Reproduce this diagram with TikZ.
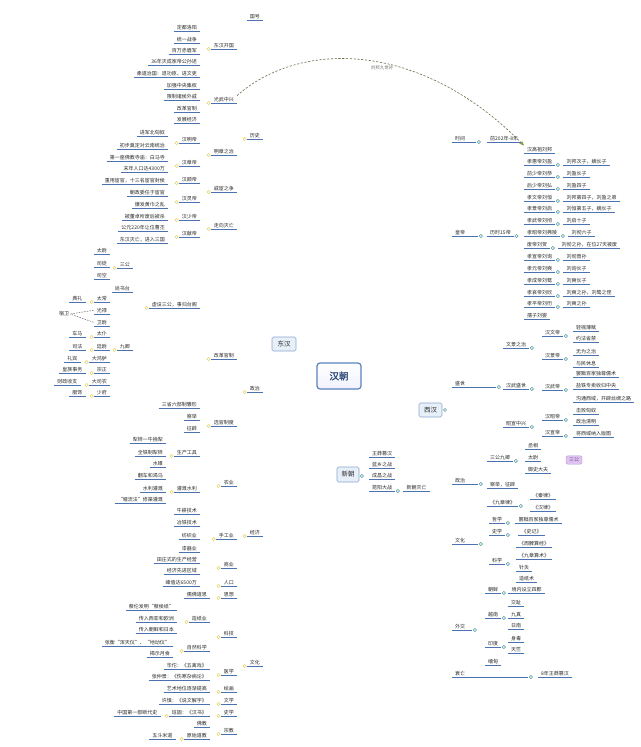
\documentclass[tikz,border=0pt]{standalone}
\usepackage{fontspec}
\setmainfont{Noto Sans CJK SC}
\newfontfamily\hcb{Noto Sans CJK SC}[FakeBold=1.6]
\usetikzlibrary{calc,arrows.meta}
\pgfdeclarelayer{bg}
\pgfsetlayers{bg,main}
\definecolor{ulc}{HTML}{4A72B0}
\definecolor{ylc}{HTML}{EAD46A}
\definecolor{ylm}{HTML}{F2D94E}
\definecolor{tlc}{HTML}{4E9AA3}
\definecolor{dtl}{HTML}{2B6A78}
\definecolor{txt}{HTML}{2A2A2A}
\definecolor{boxf}{HTML}{E7EFF9}
\definecolor{boxd}{HTML}{8CA7CC}
\definecolor{hcd}{HTML}{5B82BE}
\definecolor{hct}{HTML}{2E4A7A}
\definecolor{relc}{HTML}{66704A}
\definecolor{arrc}{HTML}{7F9A3A}
\definecolor{pkf}{HTML}{DDC3EE}
\definecolor{pkd}{HTML}{BA95D8}
\definecolor{pkt}{HTML}{7A4A9E}
\tikzset{
  lf/.style={font=\fontsize{5}{6}\selectfont, text=txt, inner xsep=3pt, inner ysep=1.2pt,
    append after command={(\tikzlastnode.south west) edge[draw=ulc, line width=0.75pt] (\tikzlastnode.south east)}},
  L/.style={lf, anchor=south east},
  R/.style={lf, anchor=south west},
  tw/.style={text width=#1, align=left},
  yl/.style={draw=ylc, line width=0.85pt, rounded corners=2pt},
  tc/.style={draw=tlc, line width=0.7pt, rounded corners=2pt},
  cy/.style={circle, draw=ylc, fill=white, inner sep=0pt, minimum size=3.2pt, line width=0.5pt},
  ct/.style={circle, draw=tlc, fill=white, inner sep=0pt, minimum size=3.2pt, line width=0.5pt},
  bx/.style={draw=boxd, fill=boxf, rounded corners=1.5pt, line width=0.6pt, font=\fontsize{6.5}{7}\selectfont, text=txt, inner sep=0pt},
}
\newcommand\Lk[2]{\begin{pgfonlayer}{bg}\foreach \kid in {#2}{\draw[yl] (#1.south west) -- ++(-4,0) |- (\kid.south east);}\end{pgfonlayer}\node[cy] at ($(#1.south west)+(-2,0)$) {};}
\newcommand\Rk[2]{\begin{pgfonlayer}{bg}\foreach \kid in {#2}{\draw[tc] (#1.south east) -- ++(4,0) |- (\kid.south west);}\end{pgfonlayer}\node[ct] at ($(#1.south east)+(2.5,0)$) {};}
\begin{document}
\begin{tikzpicture}[x=1pt,y=-1pt]
\fill[white] (0,0) rectangle (640,747);
\useasboundingbox (0,0) rectangle (640,747);

% ---------- central boxes ----------
\node[bx, minimum width=44pt, minimum height=26pt, draw=hcd, line width=1.2pt, rounded corners=3pt, top color=white, bottom color=boxf!80!blue!20, font=\hcb\fontsize{9.5}{10}\selectfont, text=hct] (hc) at (339,376) {汉朝};
\node[bx, minimum width=24pt, minimum height=14pt] (dh) at (284,344) {东汉};
\node[bx, minimum width=23pt, minimum height=14pt] (xh) at (430.5,410) {西汉};
\node[bx, minimum width=22pt, minimum height=15pt] (xc) at (348,474.5) {新朝};
\node[ct] at (445,410) {};

\begin{pgfonlayer}{bg}
\draw[ylm, line width=1.8pt] ($(hc.north west)+(5,0)$) .. controls +(-6,-12) and +(14,0) .. (dh.east);
\draw[dtl, line width=1.4pt] ($(hc.south east)+(-2,-1)$) .. controls +(12,16) and +(-25,0) .. (xh.west);
\draw[tlc!85!black, line width=1.2pt] (hc.south) -- (hc.south |- xc.north);
\end{pgfonlayer}

% ---------- 东汉 (left) ----------
\node[L] (guohao) at (263,20) {国号};
\node[L] (lishi) at (263,139) {历史};
\node[L] (lzz) at (263,392) {政治};
\node[L] (ljj) at (263,536) {经济};
\node[L] (lwh) at (263,666) {文化};

\node[L] (kg) at (237,49) {东汉开国};
\node[L] (gw) at (237,103) {光武中兴};
\node[L] (mz) at (237,155) {明章之治};
\node[L] (qh) at (237,192) {戚宦之争};
\node[L] (zxm) at (237,229) {走向灭亡};

\node[L] (a1) at (200,31) {定都洛阳};
\node[L] (a2) at (200,43) {统一战争};
\node[L] (a3) at (200,54) {百万赤眉军};
\node[L] (a4) at (200,65) {36年灭成家帝公孙述};
\node[L] (b1) at (200,77) {柔道治国：退功臣、进文吏};
\node[L] (b2) at (200,89) {加强中央集权};
\node[L] (b3) at (200,100) {限制诸侯外戚};
\node[L] (b4) at (200,112) {改革官制};
\node[L] (b5) at (200,123) {发展经济};
\node[L] (mm) at (200,143) {汉明帝};
\node[L] (mc) at (200,166) {汉章帝};
\node[L] (hs) at (200,183) {汉顺帝};
\node[L] (hl) at (200,202) {汉灵帝};
\node[L] (hsh) at (200,220) {汉少帝};
\node[L] (hx) at (200,237) {汉献帝};

\node[L] (c1) at (168,136) {进军北匈奴};
\node[L] (c2) at (168,149) {初步奠定对云南统治};
\node[L] (c3) at (168,161) {第一座佛教寺庙：白马寺};
\node[L] (c4) at (168,172) {末年人口达4300万};
\node[L] (c5) at (168,184) {重用宦官，十三名宦官封侯};
\node[L] (c6) at (168,196) {朝政委任于宦官};
\node[L] (c7) at (168,208) {爆发黄巾之乱};
\node[L] (c8) at (168,220) {被董卓所废后被杀};
\node[L] (c9) at (168,231) {公元220年让位曹丕};
\node[L] (c10) at (168,243) {东汉灭亡，进入三国};

\node[L] (gg) at (237,359) {改革官制};
\node[L] (xg) at (237,426) {选官制度};
\node[L] (xs) at (200,308) {虚设三公，事归台阁};
\node[L] (ss) at (200,408) {三省六部制雏形};
\node[L] (cj) at (200,420) {察举};
\node[L] (zb) at (200,432) {征辟};
\node[L] (sg) at (133,268) {三公};
\node[L] (sst) at (133,292) {尚书台};
\node[L] (jq) at (133,350) {九卿};
\node[L] (tw1) at (110,254) {太尉};
\node[L] (st) at (110,267) {司徒};
\node[L] (sk) at (110,279) {司空};
\node[L] (j1) at (110,302) {太常};
\node[L] (j2) at (110,314) {光禄};
\node[L] (j3) at (110,326) {卫尉};
\node[L] (j4) at (110,337) {太仆};
\node[L] (j5) at (110,350) {廷尉};
\node[L] (j6) at (110,362) {大鸿胪};
\node[L] (j7) at (110,373) {宗正};
\node[L] (j8) at (110,385) {大司农};
\node[L] (j9) at (110,396) {少府};
\node[L] (k1) at ($(j1.south west)+(-8,0)$) {典礼};
\node[L] (k4) at ($(j4.south west)+(-8,0)$) {车马};
\node[L] (k5) at ($(j5.south west)+(-8,0)$) {司法};
\node[L] (k6) at ($(j6.south west)+(-8,0)$) {礼宾};
\node[L] (k7) at ($(j7.south west)+(-8,0)$) {皇族事务};
\node[L] (k8) at ($(j8.south west)+(-8,0)$) {财政收支};
\node[L] (k9) at ($(j9.south west)+(-8,0)$) {服饰};
\node[font=\fontsize{5}{6}\selectfont, text=txt, inner sep=1pt] (suwei) at (64,314) {宿卫};
\draw[black!60, dash pattern=on 1.5pt off 1.2pt, line width=0.5pt] (j2.west) -- (suwei.east);
\draw[black!60, dash pattern=on 1.5pt off 1.2pt, line width=0.5pt] (j3.west) -- (suwei.east);

\node[L] (ny) at (237,486) {农业};
\node[L] (sgy) at (237,539) {手工业};
\node[L] (sy) at (237,568) {商业};
\node[L] (rk) at (237,586) {人口};
\node[L] (scgj) at (200,456) {生产工具};
\node[L] (ggsl) at (200,492) {灌溉水利};
\node[L] (ngjs) at (200,514) {牛耕技术};
\node[L] (d1) at (166,443) {犁铧一牛挽犁};
\node[L] (d2) at (166,456) {全铁制犁铧};
\node[L] (d3) at (166,467) {水碓};
\node[L] (d4) at (166,479) {翻车和渴乌};
\node[L] (d5) at (166,492) {水利灌溉};
\node[L] (d6) at (166,503) {“堰流法”修渠灌溉};
\node[L] (e1) at (200,526) {冶铁技术};
\node[L] (e2) at (200,539) {纺织业};
\node[L] (e3) at (200,552) {漆器业};
\node[L] (e4) at (200,563) {田庄式的生产经营};
\node[L] (e5) at (200,574) {经济先进区域};
\node[L] (e6) at (200,586) {峰值达6500万};

\node[L] (sx) at (237,598) {思想};
\node[L] (kj) at (237,637) {科技};
\node[L] (yx) at (237,675) {医学};
\node[L] (hh) at (237,692) {绘画};
\node[L] (wx) at (237,704) {文学};
\node[L] (shx) at (237,716) {史学};
\node[L] (zj) at (237,734) {宗教};
\node[L] (f0) at (210,598) {儒佛道思};
\node[L] (zzy) at (210,622) {造纸业};
\node[L] (zrkx) at (210,651) {自然科学};
\node[L] (f1) at (210,669) {华佗：《五禽戏》};
\node[L] (f2) at (210,680) {张仲景：《伤寒杂病论》};
\node[L] (f3) at (210,692) {艺术地位逐渐提高};
\node[L] (f4) at (210,704) {许慎：《说文解字》};
\node[L] (f5) at (210,716) {班固：《汉书》};
\node[L] (fj) at (210,727) {佛教};
\node[L] (ysdj) at (210,739) {原始道教};
\node[L] (g1) at (177,610) {蔡伦发明“蔡侯纸”};
\node[L] (g2) at (177,622) {传入西亚和欧洲};
\node[L] (g3) at (177,633) {传入朝鲜和日本};
\node[L] (g4) at (173,646) {张衡“浑天仪”、“地动仪”};
\node[L] (g5) at (173,657) {揭示月食};
\node[L] (g6) at ($(f5.south west)+(-8,0)$) {中国第一部断代史};
\node[L] (g7) at ($(ysdj.south west)+(-8,0)$) {五斗米道};

\begin{pgfonlayer}{bg}
\foreach \kid in {guohao,lishi,lzz,ljj,lwh}{\draw[yl, line width=1pt] (dh.west) -- ++(-5,0) |- (\kid.south east);}
\end{pgfonlayer}
\Lk{lishi}{kg,gw,mz,qh,zxm}
\Lk{kg}{a1,a2,a3,a4}
\Lk{gw}{b1,b2,b3,b4,b5}
\Lk{mz}{mm,mc}
\Lk{qh}{hs,hl}
\Lk{zxm}{hsh,hx}
\Lk{mm}{c1,c2}
\Lk{mc}{c3,c4}
\Lk{hs}{c5}
\Lk{hl}{c6,c7}
\Lk{hsh}{c8}
\Lk{hx}{c9,c10}
\Lk{lzz}{gg,xg}
\Lk{gg}{xs,ss}
\Lk{xg}{cj,zb}
\Lk{xs}{sg,sst,jq}
\Lk{sg}{tw1,st,sk}
\Lk{jq}{j1,j2,j3,j4,j5,j6,j7,j8,j9}
\Lk{j1}{k1}
\Lk{j4}{k4}
\Lk{j5}{k5}
\Lk{j6}{k6}
\Lk{j7}{k7}
\Lk{j8}{k8}
\Lk{j9}{k9}
\Lk{ljj}{ny,sgy,sy,rk}
\Lk{ny}{scgj,ggsl,ngjs}
\Lk{scgj}{d1,d2,d3}
\Lk{ggsl}{d4,d5,d6}
\Lk{sgy}{e1,e2,e3}
\Lk{sy}{e4,e5}
\Lk{rk}{e6}
\Lk{lwh}{sx,kj,yx,hh,wx,shx,zj}
\Lk{sx}{f0}
\Lk{kj}{zzy,zrkx}
\Lk{zzy}{g1,g2,g3}
\Lk{zrkx}{g4,g5}
\Lk{yx}{f1,f2}
\Lk{hh}{f3}
\Lk{wx}{f4}
\Lk{shx}{f5}
\Lk{f5}{g6}
\Lk{zj}{fj,ysdj}
\Lk{ysdj}{g7}

% ---------- 新朝 ----------
\node[R] (wmcz) at (369,457) {王莽篡汉};
\node[R] (lx) at (369,468) {蓝乡之战};
\node[R] (cc) at (369,479) {成昌之战};
\node[R] (ky) at (369,491) {昆阳大战};
\node[R] (xcmw) at ($(ky.south east)+(8,0)$) {新朝灭亡};
\begin{pgfonlayer}{bg}
\foreach \kid in {wmcz,lx,cc,ky}{\draw[tc] (xc.east) -- ++(5,0) |- (\kid.south west);}
\end{pgfonlayer}
\node[ct] at ($(xc.east)+(2.5,1.5)$) {};
\Rk{ky}{xcmw}

% ---------- 西汉 (right) ----------
\node[R, tw=18pt] (sj) at (452,142) {时间};
\node[R, tw=20pt] (hd) at (452,236) {皇帝};
\node[R, tw=38pt] (ssh) at (452,387) {盛世};
\node[R, tw=20pt] (rzz) at (452,484) {政治};
\node[R, tw=20pt] (rwh) at (452,544) {文化};
\node[R, tw=14pt] (wj) at (452,630) {外交};
\node[R, tw=70pt] (sw) at (452,677) {衰亡};

\node[R] (pre) at (487,142) {前202年-8年};
\node[R] (ls) at (487,236) {历时15帝};
\node[R] (h1) at (524,153) {汉高祖刘邦};
\node[R] (h2) at (524,165) {孝惠帝刘盈};
\node[R] (h3) at (524,177) {前少帝刘恭};
\node[R] (h4) at (524,189) {后少帝刘弘};
\node[R] (h5) at (524,201) {孝文帝刘恒};
\node[R] (h6) at (524,212) {孝景帝刘启};
\node[R] (h7) at (524,224) {孝武帝刘彻};
\node[R] (h8) at (524,236) {孝昭帝刘弗陵};
\node[R] (h9) at (524,248) {废帝刘贺};
\node[R] (h10) at (524,260) {孝宣帝刘询};
\node[R] (h11) at (524,272) {孝元帝刘奭};
\node[R] (h12) at (524,284) {孝成帝刘骜};
\node[R] (h13) at (524,296) {孝哀帝刘欣};
\node[R] (h14) at (524,307) {孝平帝刘衎};
\node[R] (h15) at (524,319) {孺子刘婴};
\node[R] (q2) at ($(h2.south east)+(8,0)$) {刘邦次子，嫡长子};
\node[R] (q3) at ($(h3.south east)+(8,0)$) {刘盈长子};
\node[R] (q4) at ($(h4.south east)+(8,0)$) {刘盈四子};
\node[R] (q5) at ($(h5.south east)+(8,0)$) {刘邦第四子，刘盈之弟};
\node[R] (q6) at ($(h6.south east)+(8,0)$) {刘恒第五子，嫡长子};
\node[R] (q7) at ($(h7.south east)+(8,0)$) {刘启十子};
\node[R] (q8) at ($(h8.south east)+(8,0)$) {刘彻六子};
\node[R] (q9) at ($(h9.south east)+(8,0)$) {刘彻之孙，在位27天被废};
\node[R] (q10) at ($(h10.south east)+(8,0)$) {刘彻曾孙};
\node[R] (q11) at ($(h11.south east)+(8,0)$) {刘询长子};
\node[R] (q12) at ($(h12.south east)+(8,0)$) {刘奭长子};
\node[R] (q13) at ($(h13.south east)+(8,0)$) {刘奭之孙，刘骜之侄};
\node[R] (q14) at ($(h14.south east)+(8,0)$) {刘奭之孙};

\node[R] (wjz) at (503,348) {文景之治};
\node[R] (hwss) at (503,389) {汉武盛世};
\node[R] (zxzx) at (503,427) {昭宣中兴};
\node[R] (hwd) at (542,336) {汉文帝};
\node[R] (hjd) at (542,359) {汉景帝};
\node[R] (hwud) at (542,390) {汉武帝};
\node[R] (hzd) at (542,420) {汉昭帝};
\node[R] (hxd) at (542,436) {汉宣帝};
\node[R] (p1) at (573,331) {轻徭薄赋};
\node[R] (p2) at (573,342) {约法省禁};
\node[R] (p3) at (573,355) {无为之治};
\node[R] (p4) at (573,367) {与民休息};
\node[R] (p5) at (573,377) {罢黜百家独尊儒术};
\node[R] (p6) at (573,389) {盐铁专卖收归中央};
\node[R] (p7) at (573,402) {沟通西域，开辟丝绸之路};
\node[R] (p8) at (573,414) {击败匈奴};
\node[R] (p9) at (573,425) {政治清明};
\node[R] (p10) at (573,437) {将西域纳入版图};

\node[R] (sgjq) at (487,461) {三公九卿};
\node[R] (cjzb) at (487,488) {察举，征辟};
\node[R] (jzl) at (487,506) {《九章律》};
\node[R] (cx1) at (525,449) {丞相};
\node[R] (tw2) at (525,461) {太尉};
\node[R] (ysdf) at (525,473) {御史大夫};
\node[R] (ql) at (530,499) {《秦律》};
\node[R] (hl2) at (530,511) {《汉律》};
\node[draw=pkd, fill=pkf, rounded corners=2pt, font=\fontsize{5}{6}\selectfont, text=pkt, inner xsep=3pt, inner ysep=2pt] (sgl) at (574,460) {三公};
\begin{pgfonlayer}{bg}
\draw[yl] (554,445) -- (558,445) -- (558,477) -- (554,477);
\draw[yl] (558,460) -- (sgl.west);
\end{pgfonlayer}

\node[R] (zx2) at (489,523) {哲学};
\node[R] (sx2) at (489,535) {史学};
\node[R] (kx) at (489,564) {科学};
\node[R] (m1) at ($(zx2.south east)+(10,0)$) {罢黜百家独尊儒术};
\node[R] (m2) at ($(sx2.south east)+(13,0)$) {《史记》};
\node[R] (m3) at (516,547) {《周髀算经》};
\node[R] (m4) at (516,559) {《九章算术》};
\node[R] (m5) at (516,571) {针灸};
\node[R] (m6) at (516,582) {造纸术};

\node[R] (cx) at (485,593) {朝鲜};
\node[R] (yn) at (485,618) {越南};
\node[R] (yd) at (485,647) {印度};
\node[R] (md) at (485,665) {缅甸};
\node[R] (n1) at ($(cx.south east)+(7,0)$) {境内设立四郡};
\node[R] (n2) at (508,606) {交趾};
\node[R] (n3) at (508,618) {九真};
\node[R] (n4) at (508,629) {日南};
\node[R] (n5) at (508,642) {身毒};
\node[R] (n6) at (508,653) {天竺};
\node[R] (wm) at (538,677) {8年王莽篡汉};

\begin{pgfonlayer}{bg}
\foreach \kid in {sj,hd,ssh,rzz,rwh,wj,sw}{\draw[tc, line width=0.9pt] (xh.east) -- ++(9,0) |- (\kid.south west);}
\end{pgfonlayer}
\Rk{sj}{pre}
\Rk{hd}{ls}
\Rk{ls}{h1,h2,h3,h4,h5,h6,h7,h8,h9,h10,h11,h12,h13,h14,h15}
\Rk{h2}{q2}
\Rk{h3}{q3}
\Rk{h4}{q4}
\Rk{h5}{q5}
\Rk{h6}{q6}
\Rk{h7}{q7}
\Rk{h8}{q8}
\Rk{h9}{q9}
\Rk{h10}{q10}
\Rk{h11}{q11}
\Rk{h12}{q12}
\Rk{h13}{q13}
\Rk{h14}{q14}
\Rk{ssh}{wjz,hwss,zxzx}
\Rk{wjz}{hwd,hjd}
\Rk{hwss}{hwud}
\Rk{zxzx}{hzd,hxd}
\Rk{hwd}{p1,p2}
\Rk{hjd}{p3,p4}
\Rk{hwud}{p5,p6,p7}
\Rk{hzd}{p8,p9}
\Rk{hxd}{p10}
\Rk{rzz}{sgjq,cjzb,jzl}
\Rk{sgjq}{cx1,tw2,ysdf}
\Rk{jzl}{ql,hl2}
\Rk{rwh}{zx2,sx2,kx}
\Rk{zx2}{m1}
\Rk{sx2}{m2}
\Rk{kx}{m3,m4,m5,m6}
\Rk{wj}{cx,yn,yd,md}
\Rk{cx}{n1}
\Rk{yn}{n2,n3,n4}
\Rk{yd}{n5,n6}
\Rk{sw}{wm}

% ---------- relationship ----------
\draw[relc, line width=0.6pt, dash pattern=on 2.2pt off 1.6pt, -{Stealth[length=5pt,width=4pt,color=arrc]}] (gw.north east) .. controls (300,40) and (420,40) .. (h1.north west);
\node[font=\fontsize{4.5}{5}\selectfont, text=black!55] (rl) at (382,68) {刘邦九世孙};
\end{tikzpicture}
\end{document}
